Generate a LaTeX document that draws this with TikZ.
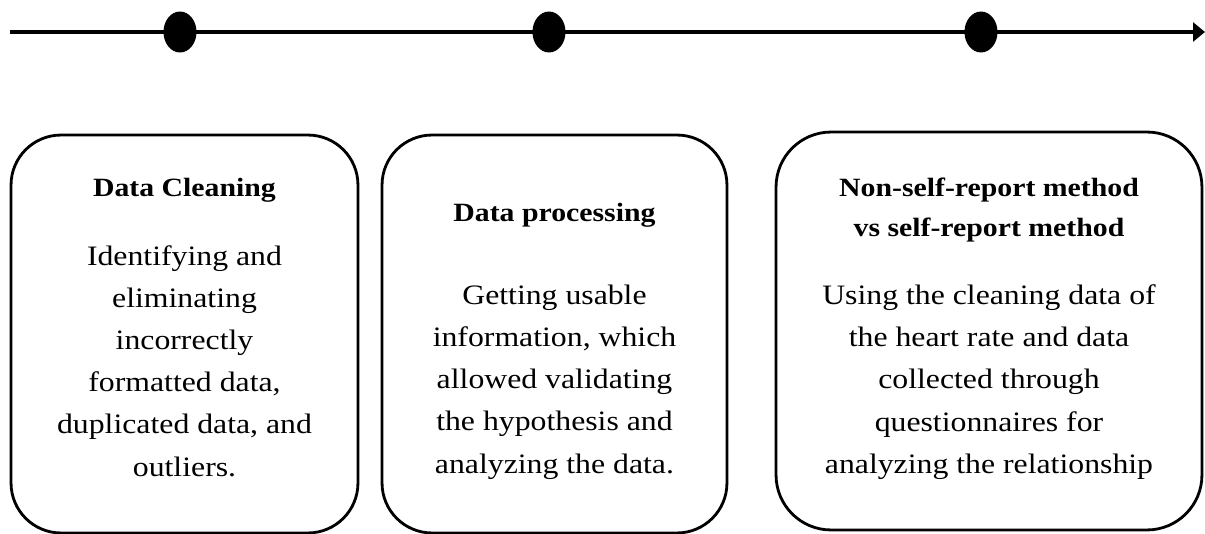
\documentclass[tikz,border=0pt]{standalone}
\usepackage{fontspec}
\setmainfont[FakeStretch=1.13]{Liberation Serif}
\usetikzlibrary{shapes.geometric,arrows.meta}

\begin{document}
\begin{tikzpicture}[x=0.02cm,y=-0.02cm,
  dot/.style={ellipse,fill=black,inner sep=0pt,minimum width=0.66cm,minimum height=0.82cm},
  box/.style={draw,line width=1.6pt,rounded corners=1cm,inner sep=0pt,minimum height=7.96cm},
  title/.style={font=\fontsize{15}{23}\selectfont\bfseries,align=center},
  body/.style={font=\fontsize{16}{24}\selectfont,align=center}]
\useasboundingbox (0,0) rectangle (1205,534);
\coordinate (start) at (10,32);
\coordinate (end) at (1205,32);
\draw [line width=2.2pt,-{Triangle[length=0.24cm,width=0.38cm]}] (start) -- (end);
\node [dot] (d1) at (180,32) {};
\node [dot] (d2) at (549,32) {};
\node [dot] (d3) at (981,32) {};
\node [box,minimum width=6.94cm] (b1) at (184.5,334) {};
\node [box,minimum width=6.90cm] (b2) at (554.5,334) {};
\node [box,minimum width=8.52cm,rounded corners=1.1cm] (b3) at (989,331) {};
\node [title] (t1) at (184.5,190) {Data Cleaning};
\node [body] (p1) at (184.5,361) {Identifying and\\eliminating\\incorrectly\\formatted data,\\duplicated data, and\\outliers.};
\node [title] (t2) at (554.5,215) {Data processing};
\node [body] (p2) at (554.5,382) {Getting usable\\information, which\\allowed validating\\the hypothesis and\\analyzing the data.};
\node [title] (t3) at (989,210) {Non-self-report method\\vs self-report method};
\node [body] (p3) at (989,382) {Using the cleaning data of\\the heart rate and data\\collected through\\questionnaires for\\analyzing the relationship};
\end{tikzpicture}
\end{document}
